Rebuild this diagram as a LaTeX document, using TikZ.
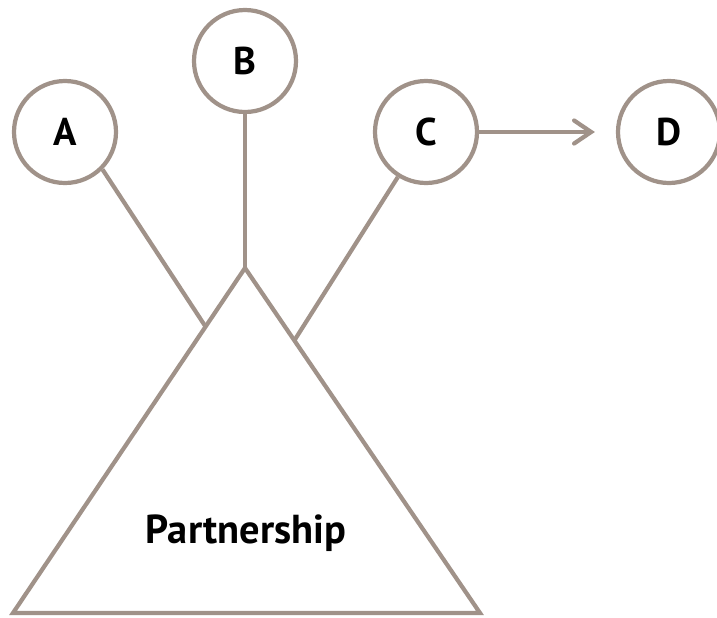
\documentclass[tikz,border=0pt]{standalone}
\usepackage{fontspec}
\setmainfont{PT Sans}
\usepackage{tikz}
\usetikzlibrary{arrows.meta,calc,positioning}
\definecolor{linebrown}{RGB}{160,146,137}
\tikzset{
  member/.style={draw=linebrown, circle, line width=2.4pt, fill=white,
                 minimum size=2.04cm, inner sep=0pt,
                 font=\fontsize{22}{26}\selectfont\bfseries},
  link/.style  ={draw=linebrown, line width=2.4pt},
  larr/.style  ={link, -{Straight Barb[length=0.34cm, width=0.46cm, line cap=round]}},
}
\begin{document}
\begin{tikzpicture}
\useasboundingbox (0,0) rectangle (14.34,12.34);

%% partners
\node[member] (A) at (1.30, 9.70)  {A};
\node[member] (B) at (4.90, 11.12) {B};
\node[member] (C) at (8.52, 9.70)  {C};
\node[member] (D) at (13.38, 9.70) {D};

%% partnership triangle
\coordinate (apex) at (4.90, 6.98);
\coordinate (bl)   at (0.26, 0.08);
\coordinate (br)   at (9.60, 0.08);
\draw[link, line join=miter] (apex) -- (bl) -- (br) -- cycle;
\node[font=\fontsize{23}{27}\selectfont\bfseries, anchor=base]
  (P) at (4.92, 1.48) {Partnership};

\coordinate (jA) at ($(apex)!0.17!(bl)$);
\coordinate (jC) at ($(apex)!0.21!(br)$);

%% links
\draw[link] (A.-45)  -- (jA);
\draw[link] (B.south) -- (apex);
\draw[link] (C.-122) -- (jC);
\draw[larr, shorten >=0.42cm] (C.east) -- (D.west);

\end{tikzpicture}
\end{document}
